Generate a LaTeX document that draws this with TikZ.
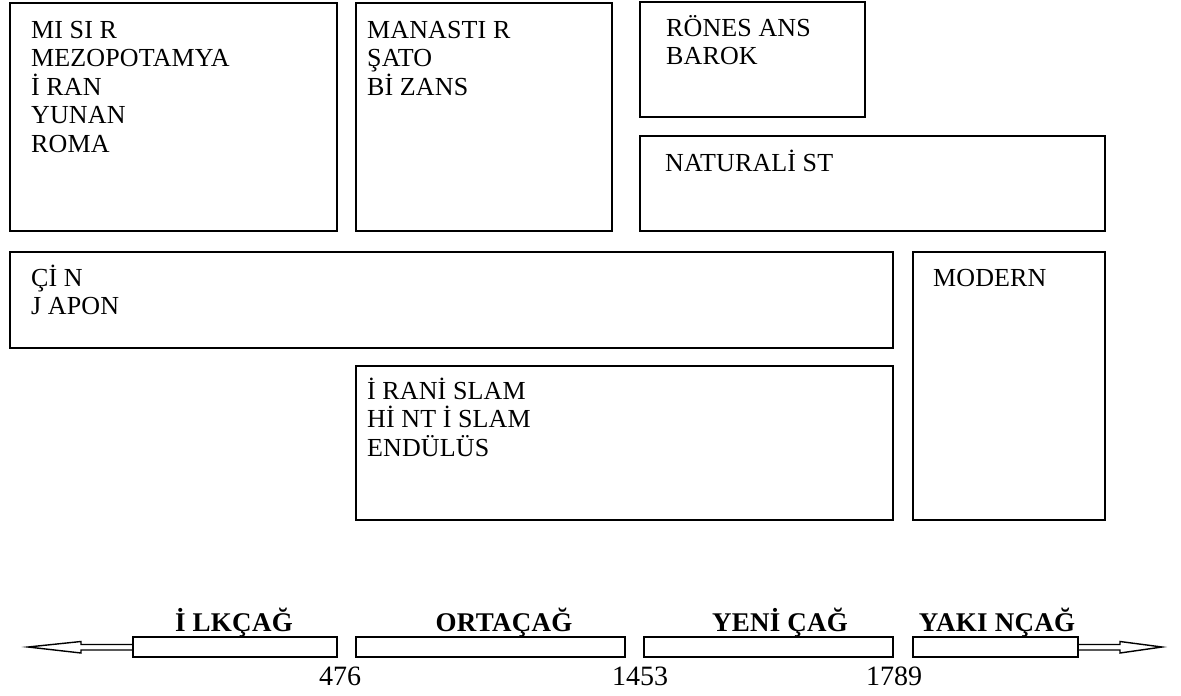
\documentclass[tikz,border=0pt]{standalone}
\usepackage{fontspec}
\setmainfont{Liberation Serif}
\newfontfamily\boxfont[LetterSpace=0.5]{Liberation Serif}
\newfontfamily\erafont[LetterSpace=1]{Liberation Serif}
\usetikzlibrary{calc}
\begin{document}
\begin{tikzpicture}[x=1pt,y=-1pt,
  box/.style={draw, line width=1.6pt, anchor=north west, inner sep=0pt, outer sep=0pt},
  lbl/.style={anchor=base west, inner sep=0pt, font=\boxfont\fontsize{26}{29}\selectfont},
  era/.style={anchor=base, inner sep=0pt, font=\erafont\bfseries\fontsize{27}{30}\selectfont},
  yearlbl/.style={anchor=base, inner sep=0pt, font=\fontsize{28}{32}\selectfont},
  bar/.style={draw, line width=1.6pt, anchor=north west, inner sep=0pt, outer sep=0pt, minimum height=20pt},
  arr/.style={line width=1.4pt, line join=miter}]
\useasboundingbox (0,0) rectangle (1181,696);
% boxes
\node[box, minimum width=327pt, minimum height=228pt] (b1) at (10,3) {};
\node[box, minimum width=256pt, minimum height=228pt] (b2) at (356,3) {};
\node[box, minimum width=225pt, minimum height=115pt] (b3) at (640,2) {};
\node[box, minimum width=465pt, minimum height=95pt] (b4) at (640,136) {};
\node[box, minimum width=883pt, minimum height=96pt] (b5) at (10,252) {};
\node[box, minimum width=192pt, minimum height=268pt] (b6) at (913,252) {};
\node[box, minimum width=537pt, minimum height=154pt] (b7) at (356,366) {};
% texts
\foreach \t [count=\i from 0] in {MI SI R,MEZOPOTAMYA,İ RAN,YUNAN,ROMA}
  \node[lbl] (ta\i) at (31,38+28.5*\i) {\t};
\foreach \t [count=\i from 0] in {MANASTI R,ŞATO,Bİ ZANS}
  \node[lbl] (tb\i) at (367,38+28.5*\i) {\t};
\foreach \t [count=\i from 0] in {RÖNES ANS,BAROK}
  \node[lbl] (tc\i) at (666,36+28.5*\i) {\t};
\node[lbl] (td0) at (665,171) {NATURALİ ST};
\foreach \t [count=\i from 0] in {Çİ N,J APON}
  \node[lbl] (te\i) at (31,286+28.5*\i) {\t};
\node[lbl] (tf0) at (933,286) {MODERN};
\foreach \t [count=\i from 0] in {İ RANİ SLAM,Hİ NT İ SLAM,ENDÜLÜS}
  \node[lbl] (tg\i) at (367,399+28.5*\i) {\t};
% timeline
\node[bar, minimum width=204pt] (bar1) at (133,637) {};
\node[bar, minimum width=269pt] (bar2) at (356,637) {};
\node[bar, minimum width=249pt] (bar3) at (644,637) {};
\node[bar, minimum width=165pt] (bar4) at (913,637) {};
\coordinate (ltip) at (28,647);
\coordinate (rtip) at (1162,647);
\draw[arr] ($(bar1.west)+(0,-2.5)$) -- ++(-52,0) -- ++(0,-3) -- (ltip)
  -- ($(bar1.west)+(-52,6)$) -- ++(0,-3) -- ($(bar1.west)+(0,3)$);
\draw[arr] ($(bar4.east)+(0,-2.5)$) -- ++(42,0) -- ++(0,-3) -- (rtip)
  -- ($(bar4.east)+(42,6)$) -- ++(0,-3) -- ($(bar4.east)+(0,3)$);
\node[era] (e1) at (234,631) {İ LKÇAĞ};
\node[era] (e2) at (504,631) {ORTAÇAĞ};
\node[era] (e3) at (780,631) {YENİ ÇAĞ};
\node[era] (e4) at (997,631) {YAKI NÇAĞ};
\node[yearlbl] (y1) at (340,685) {476};
\node[yearlbl] (y2) at (640,685) {1453};
\node[yearlbl] (y3) at (894,685) {1789};
\end{tikzpicture}
\end{document}
